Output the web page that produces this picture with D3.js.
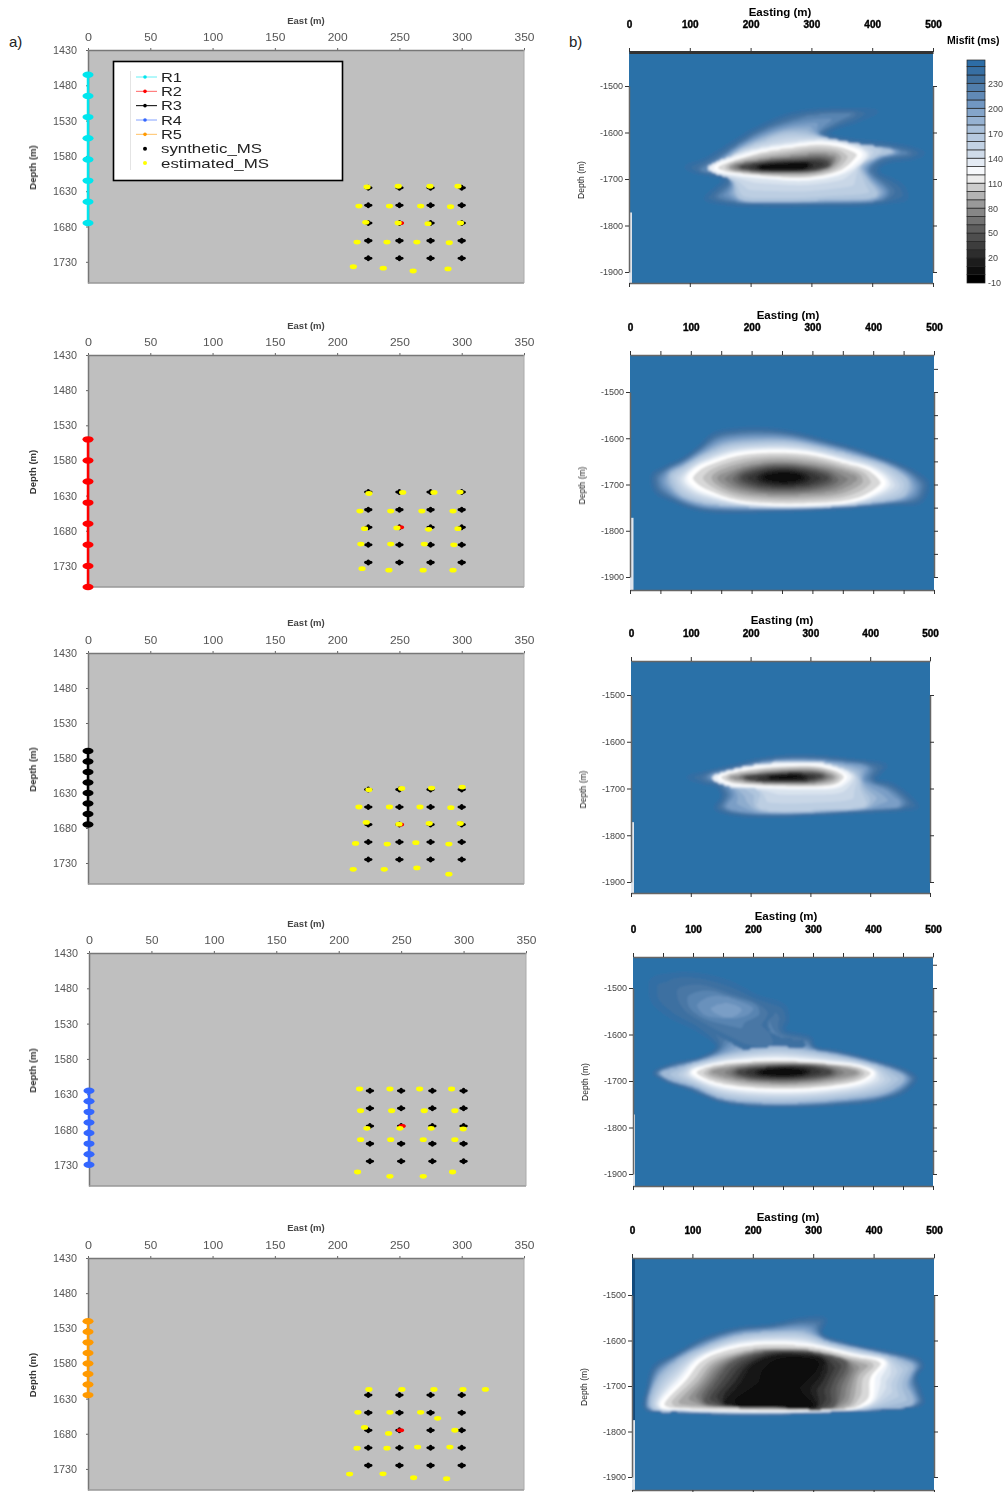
<!DOCTYPE html>
<html><head><meta charset="utf-8">
<script src="https://cdn.jsdelivr.net/npm/d3@7/dist/d3.min.js"></script>
<style>html,body{margin:0;padding:0;background:#fff}svg{display:block}text{font-family:"Liberation Sans",Arial,sans-serif}</style>
</head><body><svg id="c" width="1005" height="1492"></svg>
<script>
// ---------- data ----------
const eastTicks=[0,50,100,150,200,250,300,350];
const depthTicks=[1430,1480,1530,1580,1630,1680,1730];
const eastingTicks=[0,100,200,300,400,500];
const misfitDepthTicks=[-1500,-1600,-1700,-1800,-1900];
const misfitLabels=[-10,20,50,80,110,140,170,200,230];
const misfitBands=d3.range(-10,260,10);
const synthEast=[225,250,275,300];
const synthDepth=[1625,1650,1675,1700,1725];
const sourcePoint=[250,1675];
const legendNames=["R1","R2","R3","R4","R5","synthetic_MS","estimated_MS"];
const receiverColors=["#00e6ee","#ff0000","#000000","#3366ff","#ff9900"];
const r1Depth=[1465,1495,1525,1555,1585,1615,1645,1675];
const r2Depth=[1550,1580,1610,1640,1670,1700,1730,1760];
const r3Depth=[1570,1585,1600,1615,1630,1645,1660,1675];
const r4Depth=[1625,1640,1655,1670,1685,1700,1715,1730];
const r5Depth=[1520,1535,1550,1565,1580,1595,1610,1625];
const est1=[[224,1624],[249,1623],[274.5,1623],[297,1623],[217.5,1651],[242,1651],[267,1651],[291,1652],[223,1674],[249,1675],[273,1676],[299,1675],[216,1702],[240,1702],[264,1702],[290,1703],[213,1737],[237,1739],[261,1743],[289,1740]];
const est2=[[225.5,1627],[252.6,1625.5],[277.7,1625.5],[298.6,1625],[218.3,1652],[243,1652],[268,1652],[293,1652],[222,1677],[248,1676],[273.4,1678],[297,1677],[219,1699],[243,1699],[270,1699],[293.7,1700],[220,1734],[241.6,1736],[269,1736],[293,1736]];
const est3=[[225.5,1625.5],[251.8,1623.6],[275.8,1623],[300.4,1621.6],[217.5,1650],[242,1650],[266.5,1650],[291.3,1651],[223.4,1672],[249.6,1674.6],[273.9,1673.6],[298.8,1673.6],[214.8,1702],[240.2,1703],[263.2,1701],[289.7,1703],[212.9,1739],[237.8,1739],[264,1737],[289.7,1746]];
const est4=[[216.7,1622.6],[241,1622.6],[264.8,1622.6],[290.4,1622.6],[217.5,1653.4],[242.4,1653.4],[268.5,1653.4],[293,1653.4],[222.6,1678.3],[249,1678.3],[274,1678.3],[299.7,1679.3],[217.5,1694.4],[241.6,1694.4],[267.7,1694.4],[293,1694.4],[215.1,1740.2],[241,1746.3],[267.7,1746.3],[291.2,1740.2]];
const est5=[[225.5,1617],[252,1617],[277.7,1617],[301,1617],[319,1617],[216.7,1649.5],[242.4,1649.5],[267,1649.5],[280.7,1658],[222,1671],[241.3,1679.5],[294.5,1675],[216,1700.5],[240,1700.5],[264.6,1699],[290.5,1699],[210,1737.4],[236.8,1737],[261.4,1742.6],[287.9,1744]];

const map1=[
[245,[[94.5,1674],[123,1659],[150,1638],[172,1620],[199,1598],[227,1580],[260,1562],[303,1552],[352,1550],[407,1555],[380,1573],[341,1591],[325,1602],[369,1616],[423,1623],[467,1634],[484,1645],[467,1656],[429,1663],[412,1674],[412,1688],[434,1702],[451,1717],[456,1742],[434,1749],[380,1756],[298,1758],[216,1758],[161,1754],[126,1742],[145,1717],[156,1702],[134,1692],[107,1685]]],
[222,[[216,1598],[260,1577],[303,1562],[369,1559],[341,1580],[314,1602],[369,1623],[434,1634],[462,1645],[413,1658],[396,1681],[429,1724],[423,1742],[298,1753],[172,1749],[145,1738],[167,1710],[161,1695],[117,1681],[150,1652],[183,1623]]],
[165,[[183,1638],[216,1620],[260,1602],[314,1609],[358,1620],[413,1632],[434,1641],[407,1652],[380,1674],[391,1702],[407,1735],[325,1744],[243,1748],[183,1742],[172,1706],[145,1685],[161,1659]]],
[135,[[130,1675],[165,1652],[212,1634],[260,1624],[314,1616],[362,1624],[394,1646],[378,1672],[352,1692],[292,1706],[227,1702],[168,1694],[135,1685]]],
[115,[[142,1674],[172,1659],[216,1641],[260,1631],[314,1623],[358,1631],[382,1646],[369,1667],[347,1685],[292,1699],[227,1695],[172,1687],[145,1681]]],
[80,[[167,1672],[216,1658],[270,1650],[314,1645],[341,1652],[336,1670],[314,1683],[260,1688],[199,1685],[167,1677]]],
[35,[[183,1674],[227,1664],[281,1661],[319,1661],[330,1670],[303,1681],[260,1683],[205,1681]]],
[-5,[[216,1674],[249,1669],[292,1668],[287,1677],[243,1680],[216,1677]]]];
const map2=[
[245,[[37,1679],[61,1660],[88,1643],[110,1622],[138,1590],[176,1580],[220,1579],[264,1586],[320,1604],[369,1622],[424,1647],[463,1668],[490,1697],[479,1737],[430,1744],[342,1752],[231,1758],[121,1757],[72,1737],[41,1715]]],
[170,[[66,1679],[88,1661],[121,1636],[160,1615],[209,1608],[264,1608],[320,1622],[375,1640],[430,1665],[457,1694],[452,1722],[397,1740],[287,1751],[176,1747],[110,1737],[77,1715]]],
[115,[[96,1686],[110,1665],[143,1647],[182,1633],[242,1628],[298,1633],[353,1651],[397,1668],[419,1697],[397,1722],[364,1737],[298,1744],[231,1744],[176,1737],[132,1719],[107,1704]]],
[80,[[143,1686],[176,1665],[231,1651],[287,1654],[342,1668],[375,1686],[347,1711],[287,1722],[220,1722],[165,1708]]],
[35,[[185,1685],[220,1668],[264,1665],[309,1676],[325,1686],[298,1701],[253,1706],[209,1701]]],
[-5,[[223,1684],[253,1677],[281,1684],[253,1693]]]];
const map3=[
[245,[[96,1676],[132,1663],[177,1649],[211,1638],[255,1631],[311,1631],[367,1638],[426,1651],[417,1667],[409,1681],[434,1689],[456,1706],[479,1739],[456,1746],[401,1750],[317,1755],[233,1760],[166,1755],[141,1742],[152,1717],[144,1696],[121,1689]]],
[200,[[132,1674],[177,1658],[222,1644],[278,1638],[345,1644],[395,1656],[389,1681],[429,1706],[451,1735],[401,1744],[289,1753],[188,1750],[160,1739],[172,1714],[160,1692]]],
[160,[[227,1649],[289,1646],[345,1653],[378,1674],[384,1703],[395,1735],[322,1746],[244,1750],[211,1739],[216,1710],[199,1696],[177,1689],[188,1667]]],
[135,[[134,1677],[186,1654],[255,1644],[326,1646],[372,1674],[352,1699],[289,1704],[209,1701],[160,1695]]],
[115,[[146,1676],[188,1660],[255,1651],[322,1653],[359,1674],[345,1692],[289,1697],[211,1694],[166,1689]]],
[80,[[166,1676],[211,1667],[261,1661],[317,1663],[339,1676],[317,1687],[255,1689],[199,1686]]],
[35,[[191,1676],[233,1669],[289,1667],[320,1673],[300,1683],[244,1685],[205,1683]]],
[0,[[233,1676],[267,1671],[289,1676],[255,1679]]]];
const map4=[
[245,[[32,1482],[74,1470],[118,1473],[163,1489],[207,1518],[252,1539],[258,1568],[252,1590],[297,1608],[302,1626],[341,1636],[397,1654],[453,1676],[472,1694],[453,1723],[414,1741],[341,1751],[230,1755],[146,1744],[96,1719],[57,1701],[35,1683],[62,1665],[118,1647],[140,1626],[107,1590],[62,1561],[35,1532],[29,1504]]],
[235,[[65,1493],[101,1486],[146,1500],[196,1525],[235,1550],[224,1579],[241,1604],[285,1615],[285,1629],[185,1633],[163,1618],[118,1583],[85,1554],[68,1525]]],
[225,[[82,1511],[113,1498],[157,1514],[207,1536],[216,1561],[191,1579],[224,1601],[218,1615],[163,1593],[118,1568],[88,1543]]],
[212,[[102,1536],[129,1514],[174,1525],[205,1543],[191,1561],[146,1565],[118,1561]]],
[200,[[129,1545],[157,1532],[182,1547],[163,1565],[140,1557]]],
[180,[[46,1683],[79,1669],[129,1651],[174,1636],[241,1626],[308,1636],[375,1654],[430,1676],[453,1694],[425,1723],[341,1741],[230,1748],[146,1737],[101,1712],[62,1697]]],
[115,[[99,1680],[135,1665],[185,1658],[252,1656],[330,1662],[380,1669],[401,1683],[380,1701],[319,1715],[241,1719],[163,1712],[118,1697]]],
[80,[[129,1680],[174,1668],[252,1662],[330,1667],[375,1682],[330,1697],[252,1705],[174,1697]]],
[35,[[174,1680],[230,1669],[297,1669],[330,1681],[285,1692],[230,1694],[191,1689]]],
[-5,[[213,1681],[252,1674],[285,1681],[252,1687]]]];
const map5=[
[245,[[22,1750],[26,1701],[36,1657],[74,1628],[119,1595],[174,1573],[229,1566],[284,1551],[320,1553],[314,1584],[356,1606],[422,1624],[477,1643],[482,1657],[471,1679],[477,1708],[482,1738],[449,1749],[339,1756],[229,1763],[119,1761],[63,1756]]],
[180,[[30,1749],[41,1686],[74,1643],[119,1613],[174,1588],[229,1580],[284,1580],[323,1602],[384,1621],[449,1643],[466,1657],[455,1694],[466,1738],[397,1752],[229,1760],[91,1757]]],
[115,[[47,1745],[85,1686],[108,1646],[141,1624],[185,1610],[240,1606],[306,1613],[367,1632],[419,1648],[400,1679],[397,1730],[372,1749],[284,1756],[174,1756],[91,1752]]],
[95,[[69,1741],[108,1686],[130,1650],[174,1628],[229,1617],[295,1621],[356,1639],[397,1654],[378,1679],[372,1723],[361,1745],[229,1749],[119,1746]]],
[50,[[119,1734],[141,1686],[163,1650],[207,1628],[256,1621],[311,1628],[356,1650],[339,1701],[334,1745],[229,1747],[157,1745]]],
[10,[[152,1738],[179,1694],[196,1657],[229,1635],[273,1632],[317,1643],[311,1679],[295,1708],[306,1745],[229,1746],[174,1745]]],
[-10,[[234,1668],[243,1650],[273,1643],[300,1650],[284,1672],[251,1690]]],
[-10,[[174,1745],[212,1727],[273,1730],[295,1745],[229,1746]]]];

// ---------- layout ----------
const leftPanels=[
 {x:[88,524],y:[50,283],title:21,rec:r1Depth,est:est1,c:0},
 {x:[88,524],y:[355,587],title:326,rec:r2Depth,est:est2,c:1},
 {x:[88,524],y:[653,884],title:623,rec:r3Depth,est:est3,c:2},
 {x:[89,526],y:[953,1186],title:924,rec:r4Depth,est:est4,c:3},
 {x:[88,524],y:[1258,1490],title:1228,rec:r5Depth,est:est5,c:4}];
const rightPanels=[
 {x:[629,933],top:52,bot:283,t1500:86,t1900:272,title:12,map:map1,strip:3,minor:false,tx:780},
 {x:[630,934],top:355,bot:590,t1500:392,t1900:577,title:315,map:map2,strip:3.5,minor:true,tx:788},
 {x:[631,930],top:661,bot:893,t1500:695,t1900:882,title:620,map:map3,strip:3,minor:false,tx:782},
 {x:[633,933],top:957,bot:1186,t1500:988,t1900:1174,title:916,map:map4,strip:2,minor:true,tx:786},
 {x:[632,934],top:1258,bot:1490,t1500:1295,t1900:1477,title:1217,map:map5,strip:3,minor:false,tx:788,dark:true}];

const svg=d3.select("#c");
const defs=svg.append("defs");
defs.append("filter").attr("id","bandblur").attr("x","-2%").attr("y","-2%").attr("width","104%").attr("height","104%").append("feGaussianBlur").attr("stdDeviation",0.8);
defs.append("filter").attr("id","soft").append("feGaussianBlur").attr("stdDeviation",0.35);

const misfitColor=d3.scaleLinear()
 .domain([-10,10,50,80,105,115,125,140,170,200,230,250,260])
 .range(["#000000","#1c1c1c","#5e5e5e","#9a9a9a","#d8d8d8","#ffffff","#eef3f9","#cfdbe9","#a9c0da","#7197c2","#41719f","#2d6da6","#2b74aa"]);

// ---------- a) panels ----------
leftPanels.forEach((p,i)=>{
  const g=svg.append("g");
  const x=d3.scaleLinear().domain([0,350]).range(p.x);
  const y=d3.scaleLinear().domain([1430,1760]).range(p.y);
  g.append("rect").attr("x",p.x[0]).attr("y",p.y[0]).attr("width",p.x[1]-p.x[0]).attr("height",p.y[1]-p.y[0])
    .attr("fill","#bfbfbf");
  const ax=g.append("g").attr("transform",`translate(0,${p.y[0]})`)
    .call(d3.axisTop(x).tickValues(eastTicks).tickFormat(d=>String(d)).tickSize(2).tickPadding(7).tickSizeOuter(0));
  const ay=g.append("g").attr("transform",`translate(${p.x[0]},0)`)
    .call(d3.axisLeft(y).tickValues(depthTicks).tickFormat(d=>String(d)).tickSize(2).tickPadding(9).tickSizeOuter(0));
  [ax,ay].forEach(a=>{
    a.selectAll("text").attr("font-size",11).attr("fill","#555").attr("font-family","Liberation Sans").attr("filter","url(#soft)").attr("lengthAdjust","spacingAndGlyphs");
    a.selectAll("line").attr("stroke","#666");a.select(".domain").attr("stroke","#777").attr("stroke-width",1.5);
  });
  ax.selectAll("text").each(function(d){d3.select(this).attr("textLength",d===0?7:(d<100?13:20));});
  ay.selectAll("text").attr("textLength",24);
  g.append("line").attr("x1",p.x[0]).attr("x2",p.x[1]).attr("y1",p.y[1]).attr("y2",p.y[1]).attr("stroke","#999").attr("stroke-width",1.5);
  g.append("line").attr("x1",p.x[1]).attr("x2",p.x[1]).attr("y1",p.y[0]).attr("y2",p.y[1]).attr("stroke","#aaa");
  g.append("text").attr("x",306).attr("y",p.title+3).attr("text-anchor","middle").attr("font-size",9.5).attr("font-weight","bold").attr("fill","#444").attr("filter","url(#soft)").text("East (m)");
  g.append("text").attr("transform",`translate(36,${(p.y[0]+p.y[1])/2+1}) rotate(-90)`).attr("text-anchor","middle").attr("font-size",9.5).attr("font-weight","bold").attr("fill","#333").attr("filter","url(#soft)").text("Depth (m)");
  const col=receiverColors[p.c];
  g.append("line").attr("x1",x(0)).attr("x2",x(0)).attr("y1",y(p.rec[0])).attr("y2",y(p.rec[p.rec.length-1])).attr("stroke",col).attr("stroke-width",2.5);
  g.selectAll(null).data(p.rec).join("ellipse").attr("cx",x(0)).attr("cy",d=>y(d)).attr("rx",5.5).attr("ry",3.2).attr("fill",col);
  const grid=d3.cross(synthEast,synthDepth);
  g.selectAll(null).data(grid).join("ellipse").attr("cx",d=>x(d[0])).attr("cy",d=>y(d[1])).attr("rx",4.2).attr("ry",1.8).attr("fill","#000");
  g.selectAll(null).data(grid).join("ellipse").attr("cx",d=>x(d[0])).attr("cy",d=>y(d[1])).attr("rx",1.8).attr("ry",3).attr("fill","#000");
  g.append("ellipse").attr("cx",x(sourcePoint[0])+1).attr("cy",y(sourcePoint[1])).attr("rx",3.6).attr("ry",2).attr("fill","#ff0000");
  g.selectAll(null).data(p.est).join("ellipse").attr("cx",d=>x(d[0])).attr("cy",d=>y(d[1])).attr("rx",3.6).attr("ry",2.4).attr("fill","#ffff00");
});

// legend
{
  const lg=svg.append("g");
  const rowY=d3.scalePoint().domain(legendNames).range([77,163]);
  lg.append("rect").attr("x",113.5).attr("y",61.5).attr("width",229).attr("height",119).attr("fill","#fff").attr("stroke","#000").attr("stroke-width",1.6);
  lg.append("line").attr("x1",130.5).attr("x2",130.5).attr("y1",71).attr("y2",170).attr("stroke","#e4e4e4");
  legendNames.forEach((n,i)=>{
    const yy=rowY(n);
    if(i<5){
      lg.append("line").attr("x1",136).attr("x2",157).attr("y1",yy).attr("y2",yy).attr("stroke",receiverColors[i]).attr("stroke-opacity",i==2?1:.6);
      lg.append("circle").attr("cx",145).attr("cy",yy).attr("r",1.8).attr("fill",receiverColors[i]);
    } else lg.append("circle").attr("cx",145).attr("cy",yy).attr("r",2).attr("fill",i==5?"#000":"#ffff00");
    lg.append("text").attr("x",161).attr("y",yy+4.5).attr("font-size",i<5?13.5:13).attr("fill","#222").attr("filter","url(#soft)").attr("textLength",i<5?21:(i==5?101:108)).attr("lengthAdjust","spacingAndGlyphs").text(n);
  });
}

// ---------- b) panels ----------
const pathGen=d3.line().curve(d3.curveCatmullRomClosed.alpha(0.5));
const probe=svg.append("path").attr("fill","none").attr("visibility","hidden");
// trace a read contour into closely spaced screen vertices
function trace(pts,x,y){
  probe.attr("d",pathGen(pts.map(q=>[x(q[0]),y(-q[1])])));
  const n=probe.node(),L=n.getTotalLength(),out=[];
  for(let s=0;s<L;s+=2){const a=n.getPointAtLength(s);out.push([a.x,a.y]);}
  return out;
}
function nearest(P,poly){
  let m=Infinity;
  for(let k=0;k<poly.length;k++){const dx=poly[k][0]-P[0],dy=poly[k][1]-P[1],d=dx*dx+dy*dy;if(d<m)m=d;}
  return Math.sqrt(m);
}
// raster the nested read contours for d3.contours to band at 10 ms
function misfitRaster(p,x,y,step){
  const polys=p.map.map(([v,pts])=>({v,poly:trace(pts,x,y),kids:[]}));
  polys.forEach(q=>{
    const c=d3.polygonCentroid(q.poly);
    let par=null;
    polys.forEach(r=>{if(r.v>q.v&&d3.polygonContains(r.poly,c)&&(!par||r.v<par.v))par=r;});
    if(par)par.kids.push(q);
  });
  const X0=p.x[0]-step,Y0=p.top-step;
  const w=Math.ceil((p.x[1]-p.x[0])/step)+3,h=Math.ceil((p.bot-p.top)/step)+3;
  const vals=new Float64Array(w*h);
  for(let j=0;j<h;j++)for(let i=0;i<w;i++){
    const P=[X0+i*step,Y0+j*step];
    let own=null;
    polys.forEach(q=>{if(d3.polygonContains(q.poly,P)&&(!own||q.v<own.v))own=q;});
    let val;
    if(!own){
      val=Math.min(260,245+d3.min(polys,q=>nearest(P,q.poly))*2.5);
    }else{
      const dIn=nearest(P,own.poly);
      if(own.kids.length){
        let drop=0;
        own.kids.forEach(q=>{const dk=nearest(P,q.poly);drop=Math.max(drop,(own.v-q.v)*dIn/(dIn+dk));});
        val=own.v-drop;
      }else val=Math.max(-10,own.v-Math.min(dIn*0.8,8));
    }
    vals[j*w+i]=val;
  }
  return {vals,w,h,X0,Y0};
}
rightPanels.forEach((p,i)=>{
  const g=svg.append("g");
  const x=d3.scaleLinear().domain([0,500]).range(p.x);
  const y=d3.scaleLinear().domain([-1500,-1900]).range([p.t1500,p.t1900]);
  const cid="cp"+i;
  defs.append("clipPath").attr("id",cid).append("rect").attr("x",p.x[0]).attr("y",p.top).attr("width",p.x[1]-p.x[0]).attr("height",p.bot-p.top);
  const inner=g.append("g").attr("clip-path",`url(#${cid})`);
  inner.append("rect").attr("x",p.x[0]).attr("y",p.top).attr("width",p.x[1]-p.x[0]).attr("height",p.bot-p.top).attr("fill","#2b74aa");
  const step=2,R=misfitRaster(p,x,y,step);
  const bands=d3.contours().size([R.w,R.h]).thresholds(misfitBands.slice().reverse())(Array.from(R.vals));
  const proj=d3.geoTransform({point(a,b){this.stream.point(R.X0+(a-.5)*step,R.Y0+(b-.5)*step);}});
  const gp=d3.geoPath(proj);
  const bg=inner.append("g").attr("filter","url(#bandblur)");
  bands.slice().sort((a,b)=>a.value-b.value).forEach(c=>{
    bg.append("path").attr("d",gp(c)).attr("fill",misfitColor(c.value+5));
  });
  inner.append("rect").attr("x",p.x[0]).attr("y",y(-1772)).attr("width",p.strip).attr("height",p.bot-y(-1772)).attr("fill","#dfe5ec");
  if(p.dark) inner.append("rect").attr("x",p.x[0]).attr("y",p.top).attr("width",3).attr("height",y(-1775)-p.top).attr("fill","#114a7c");
  const xt=p.minor?d3.range(0,501,50):eastingTicks;
  const top=g.append("g").attr("transform",`translate(0,${p.top})`).call(d3.axisTop(x).tickValues(xt).tickSize(4).tickFormat("").tickSizeOuter(0));
  const bot=g.append("g").attr("transform",`translate(0,${p.bot})`).call(d3.axisBottom(x).tickValues(xt).tickSize(4).tickFormat("").tickSizeOuter(0));
  const labels=g.append("g").attr("transform",`translate(0,${p.top-23})`).call(d3.axisTop(x).tickValues(eastingTicks).tickFormat(d=>String(d)).tickSize(0).tickPadding(1).tickSizeOuter(0));
  labels.select(".domain").remove();
  labels.selectAll("text").attr("font-size",10).attr("font-weight","bold").attr("font-family","Liberation Sans").attr("fill","#000").attr("filter","url(#soft)").attr("stroke","#000").attr("stroke-width",.4);
  const left=g.append("g").attr("transform",`translate(${p.x[0]},0)`).call(d3.axisLeft(y).tickValues(misfitDepthTicks).tickFormat(d=>String(d)).tickSize(4).tickPadding(2).tickSizeOuter(0));
  left.selectAll("text").attr("font-size",9).attr("font-family","Liberation Sans").attr("fill","#444").attr("filter","url(#soft)");
  const rt=p.minor?d3.range(-1450,-1901,-50):misfitDepthTicks;
  const right=g.append("g").attr("transform",`translate(${p.x[1]},0)`).call(d3.axisRight(y).tickValues(rt).tickSize(4).tickFormat("").tickSizeOuter(0));
  [top,bot,left,right].forEach(a=>{a.selectAll("line").attr("stroke","#333");a.select(".domain").attr("stroke","#666").attr("stroke-width",1.5);});
  if(i===0) top.select(".domain").attr("stroke","#333").attr("stroke-width",3);
  g.append("text").attr("x",p.tx).attr("y",p.title+4).attr("text-anchor","middle").attr("font-size",11.5).attr("font-weight","bold").attr("fill","#000").attr("filter","url(#soft)").text("Easting (m)");
  g.append("text").attr("transform",`translate(${p.x[0]-45},${(p.t1500+p.t1900)/2+1}) rotate(-90)`).attr("text-anchor","middle").attr("font-size",8.5).attr("fill","#222").attr("filter","url(#soft)").text("Depth (m)");
});
probe.remove();

// colour bar
{
  const cb=svg.append("g");
  const yb=d3.scaleLinear().domain([-10,258]).range([283,60]);
  cb.selectAll(null).data(misfitBands).join("rect")
    .attr("x",967).attr("width",18)
    .attr("y",d=>yb(Math.min(d+10,258))).attr("height",d=>yb(d)-yb(Math.min(d+10,258)))
    .attr("fill",d=>misfitColor(d)).attr("stroke","#222").attr("stroke-width",.7);
  const a=cb.append("g").attr("transform","translate(985,0)").call(d3.axisRight(yb).tickValues(misfitLabels).tickFormat(d=>String(d)).tickSize(0).tickPadding(3).tickSizeOuter(0));
  a.select(".domain").remove();
  a.selectAll("text").attr("font-size",9).attr("font-family","Liberation Sans").attr("fill","#444").attr("filter","url(#soft)");
  cb.append("text").attr("x",947).attr("y",44).attr("font-size",10.5).attr("font-weight","bold").attr("fill","#000").attr("filter","url(#soft)").text("Misfit (ms)");
}
svg.append("text").attr("x",9).attr("y",47).attr("font-size",15).attr("fill","#222").text("a)");
svg.append("text").attr("x",569).attr("y",47).attr("font-size",15).attr("fill","#222").text("b)");
</script></body></html>
